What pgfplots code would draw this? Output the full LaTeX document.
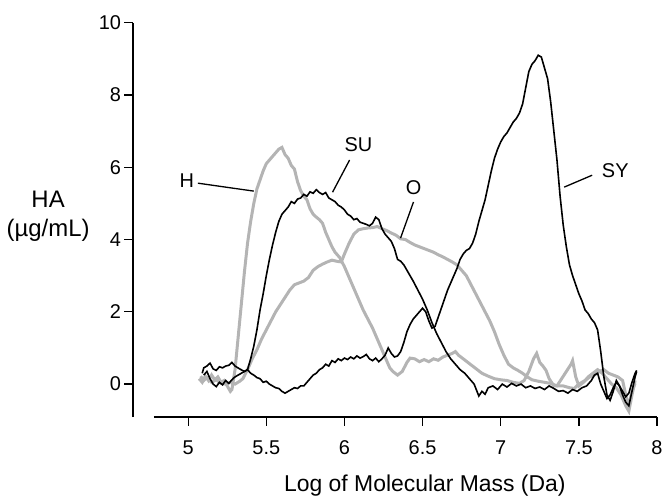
\documentclass[border=0pt]{standalone}
\usepackage{fontspec}
\setmainfont{Liberation Sans}
\usepackage{pgfplots}
\pgfplotsset{compat=1.18}
\definecolor{curvegray}{RGB}{180,180,180}

\begin{document}
\begin{tikzpicture}
\begin{axis}[
    scale only axis,
    width=524bp, height=394.3bp,
    xmin=4.647, xmax=8,
    ymin=-0.91, ymax=10,
    axis x line=bottom, axis y line=left,
    axis line style={-, line width=1.3bp},
    x axis line style={shorten <=21bp},
    tick align=outside,
    major tick length=8.5bp,
    tick style={black, line width=1.3bp},
    xtick={5,5.5,6,6.5,7,7.5,8},
    ytick={0,2,4,6,8,10},
    /pgf/number format/assume math mode=true,
    tick label style={font=\fontsize{20}{22}\selectfont},
    xticklabel style={yshift=-12bp},
    xlabel={Log of Molecular Mass (Da)},
    xlabel style={font=\fontsize{23}{26}\selectfont, at={(axis description cs:0.557,-0.190)}, anchor=base},
    clip=false,
]

% H
\addplot[curvegray, line width=3bp] coordinates {
(5.07,0.15)(5.09,0.05)(5.11,0.22)(5.13,0.1)(5.15,0.25)(5.17,0.12)(5.19,0.2)(5.21,0.05)(5.23,0.1)(5.25,-0.05)(5.27,-0.2)(5.28,-0.15)
(5.30,0.4)(5.32,1.3)(5.34,2.2)(5.36,3.1)(5.38,3.9)(5.40,4.5)(5.42,5.0)(5.44,5.4)(5.46,5.65)(5.48,5.9)(5.50,6.1)(5.52,6.2)(5.54,6.3)
(5.56,6.4)(5.58,6.5)(5.60,6.55)(5.62,6.35)(5.64,6.25)(5.66,6.05)(5.68,5.95)(5.70,5.6)(5.72,5.35)(5.74,5.2)(5.76,5.1)(5.78,4.85)
(5.80,4.7)(5.82,4.62)(5.84,4.55)(5.86,4.45)(5.88,4.2)(5.90,4.0)(5.92,3.8)(5.94,3.65)(5.97,3.5)(6.00,3.25)(6.03,2.95)(6.06,2.65)
(6.09,2.35)(6.12,2.05)(6.15,1.8)(6.18,1.55)(6.21,1.25)(6.24,0.95)(6.27,0.65)(6.29,0.45)(6.31,0.35)(6.34,0.25)(6.37,0.35)(6.40,0.6)
(6.42,0.72)(6.45,0.7)(6.48,0.62)(6.51,0.68)(6.54,0.62)(6.57,0.7)(6.60,0.66)(6.63,0.75)(6.66,0.8)(6.69,0.85)(6.71,0.9)(6.73,0.8)
(6.76,0.7)(6.79,0.6)(6.82,0.5)(6.85,0.4)(6.88,0.3)(6.92,0.22)(6.96,0.15)(7.00,0.12)(7.04,0.1)(7.08,0.05)(7.12,0.02)(7.15,0.1)
(7.18,0.35)(7.21,0.7)(7.23,0.85)(7.25,0.6)(7.27,0.5)(7.29,0.38)(7.31,0.15)(7.34,-0.05)(7.36,-0.05)(7.39,0.15)(7.42,0.35)(7.45,0.55)
(7.46,0.65)(7.48,0.2)(7.50,-0.05)(7.53,0.05)(7.56,0.2)(7.59,0.3)(7.62,0.4)(7.65,0.3)(7.68,0.15)(7.71,0.0)(7.74,-0.1)(7.77,-0.3)
(7.80,-0.6)(7.82,-0.75)(7.84,-0.3)(7.86,0.1)
};

% O
\addplot[curvegray, line width=3bp] coordinates {
(5.08,0.22)(5.10,0.1)(5.12,0.18)(5.15,0.05)(5.18,0.12)(5.21,0.02)(5.24,0.0)(5.27,0.05)(5.30,0.0)(5.33,0.08)(5.35,0.15)(5.38,0.4)
(5.41,0.7)(5.44,0.95)(5.47,1.25)(5.50,1.5)(5.53,1.75)(5.56,2.0)(5.59,2.2)(5.62,2.4)(5.65,2.6)(5.68,2.75)(5.71,2.8)(5.74,2.85)
(5.77,2.95)(5.80,3.15)(5.83,3.25)(5.86,3.32)(5.89,3.38)(5.92,3.43)(5.95,3.4)(5.98,3.38)(6.00,3.6)(6.03,3.9)(6.06,4.15)(6.09,4.27)
(6.12,4.3)(6.15,4.32)(6.18,4.33)(6.21,4.36)(6.24,4.3)(6.27,4.25)(6.30,4.18)(6.33,4.12)(6.36,4.02)(6.39,4.0)(6.42,3.92)(6.45,3.85)
(6.48,3.8)(6.51,3.75)(6.54,3.7)(6.57,3.65)(6.60,3.58)(6.63,3.52)(6.66,3.45)(6.69,3.38)(6.72,3.3)(6.75,3.15)(6.78,3.0)(6.81,2.75)
(6.84,2.5)(6.87,2.25)(6.90,2.0)(6.93,1.75)(6.96,1.45)(6.99,1.1)(7.02,0.8)(7.05,0.55)(7.08,0.45)(7.11,0.38)(7.14,0.3)(7.17,0.2)
(7.20,0.12)(7.24,0.08)(7.28,0.05)(7.32,0.02)(7.36,-0.05)(7.40,-0.05)(7.44,-0.1)(7.47,-0.12)(7.50,0.0)(7.54,0.1)(7.57,0.2)(7.60,0.25)
(7.63,0.35)(7.66,0.4)(7.69,0.3)(7.72,0.25)(7.75,0.2)(7.78,0.1)(7.80,-0.3)(7.82,-0.6)(7.84,-0.2)(7.86,0.02)
};

% SU
\addplot[black, line width=1.6bp] coordinates {
(5.09,0.3)(5.10,0.45)(5.12,0.5)(5.14,0.58)(5.16,0.42)(5.18,0.38)(5.20,0.48)(5.22,0.45)(5.24,0.5)(5.26,0.52)(5.28,0.6)(5.30,0.5)
(5.33,0.42)(5.36,0.35)(5.38,0.4)(5.40,0.7)(5.42,1.05)(5.44,1.5)(5.46,2.05)(5.48,2.5)(5.50,3.0)(5.52,3.45)(5.54,3.85)(5.56,4.2)
(5.58,4.5)(5.60,4.7)(5.62,4.8)(5.64,4.9)(5.66,5.05)(5.68,5.0)(5.70,5.12)(5.72,5.15)(5.74,5.25)(5.76,5.2)(5.78,5.32)(5.80,5.28)
(5.82,5.38)(5.84,5.3)(5.86,5.25)(5.88,5.3)(5.90,5.15)(5.92,5.1)(5.94,5.05)(5.96,4.95)(5.98,4.9)(6.00,4.82)(6.02,4.7)(6.04,4.65)
(6.06,4.55)(6.08,4.58)(6.10,4.48)(6.12,4.45)(6.14,4.42)(6.16,4.38)(6.18,4.45)(6.20,4.62)(6.22,4.55)(6.24,4.3)(6.26,4.15)(6.28,4.05)
(6.30,3.95)(6.32,3.75)(6.34,3.45)(6.36,3.4)(6.38,3.3)(6.40,3.15)(6.42,3.0)(6.44,2.85)(6.47,2.6)(6.50,2.35)(6.53,2.05)(6.56,1.7)
(6.59,1.4)(6.62,1.15)(6.65,0.9)(6.68,0.7)(6.71,0.55)(6.74,0.4)(6.77,0.3)(6.80,0.15)(6.83,0.0)(6.86,-0.33)(6.88,-0.2)(6.90,-0.28)
(6.92,-0.1)(6.95,-0.05)(6.98,-0.15)(7.01,0.0)(7.04,-0.08)(7.07,0.02)(7.10,-0.05)(7.13,0.0)(7.16,-0.1)(7.19,-0.05)(7.22,-0.12)
(7.25,-0.08)(7.28,-0.15)(7.31,-0.05)(7.34,-0.12)(7.37,-0.2)(7.40,-0.18)(7.43,-0.25)(7.46,-0.15)(7.49,-0.2)(7.52,-0.1)(7.55,-0.05)
(7.58,0.1)(7.60,0.25)(7.62,0.3)(7.64,0.0)(7.66,-0.2)(7.68,-0.4)(7.70,-0.3)(7.72,-0.1)(7.74,0.05)(7.76,-0.05)(7.78,-0.2)(7.80,-0.35)
(7.82,-0.25)(7.84,0.05)(7.86,0.3)(7.87,0.38)
};

% SY
\addplot[black, line width=1.6bp] coordinates {
(5.10,0.25)(5.12,0.35)(5.14,0.15)(5.16,0.0)(5.18,-0.07)(5.20,0.05)(5.22,-0.02)(5.24,0.1)(5.26,0.02)(5.28,0.12)(5.30,0.2)(5.32,0.25)
(5.34,0.3)(5.36,0.35)(5.38,0.4)(5.40,0.3)(5.42,0.25)(5.44,0.18)(5.46,0.15)(5.48,0.05)(5.50,0.08)(5.52,0.0)(5.54,-0.05)(5.56,-0.1)
(5.58,-0.12)(5.60,-0.2)(5.62,-0.25)(5.64,-0.2)(5.66,-0.15)(5.68,-0.1)(5.70,-0.12)(5.72,-0.05)(5.74,-0.05)(5.76,0.05)(5.78,0.15)
(5.80,0.25)(5.82,0.3)(5.84,0.4)(5.86,0.45)(5.88,0.55)(5.90,0.5)(5.92,0.65)(5.94,0.6)(5.96,0.7)(5.98,0.65)(6.00,0.72)(6.02,0.68)
(6.04,0.75)(6.06,0.7)(6.08,0.78)(6.10,0.72)(6.12,0.76)(6.14,0.82)(6.16,0.7)(6.18,0.65)(6.20,0.72)(6.22,0.62)(6.24,0.7)(6.26,0.8)
(6.28,1.0)(6.30,0.85)(6.32,0.75)(6.34,0.78)(6.36,0.9)(6.38,1.15)(6.40,1.45)(6.42,1.65)(6.44,1.8)(6.46,1.9)(6.48,2.0)(6.50,2.1)
(6.52,2.0)(6.54,1.75)(6.56,1.55)(6.58,1.6)(6.60,1.85)(6.62,2.1)(6.64,2.35)(6.66,2.6)(6.68,2.8)(6.70,3.0)(6.72,3.2)(6.74,3.45)
(6.76,3.6)(6.78,3.7)(6.80,3.75)(6.82,3.9)(6.84,4.15)(6.86,4.5)(6.88,4.8)(6.90,5.1)(6.92,5.5)(6.94,5.9)(6.96,6.25)(6.98,6.5)
(7.00,6.7)(7.02,6.85)(7.04,6.95)(7.06,7.1)(7.08,7.25)(7.10,7.35)(7.12,7.5)(7.14,7.75)(7.16,8.2)(7.18,8.65)(7.20,8.85)(7.22,8.95)
(7.24,9.1)(7.26,9.05)(7.28,8.75)(7.30,8.45)(7.32,7.8)(7.34,7.0)(7.36,6.2)(7.38,5.2)(7.40,4.4)(7.42,3.8)(7.44,3.3)(7.46,3.0)
(7.48,2.75)(7.50,2.5)(7.52,2.3)(7.54,2.05)(7.56,1.95)(7.58,1.8)(7.60,1.7)(7.62,1.5)(7.64,0.9)(7.66,0.2)(7.68,-0.3)(7.70,-0.45)
(7.72,-0.2)(7.74,0.1)(7.76,-0.05)(7.78,-0.3)(7.80,-0.5)(7.82,-0.6)(7.84,-0.2)(7.86,0.2)(7.87,0.35)
};

% labels and leader lines
\node[font=\fontsize{20}{22}\selectfont] at (axis cs:4.992,5.62) {H};
\draw[line width=1.3bp] (axis cs:5.062,5.56) -- (axis cs:5.42,5.34);
\node[font=\fontsize{20}{22}\selectfont] at (axis cs:6.09,6.63) {SU};
\draw[line width=1.3bp] (axis cs:6.033,6.2) -- (axis cs:5.924,5.31);
\node[font=\fontsize{20}{22}\selectfont] at (axis cs:6.443,5.45) {O};
\draw[line width=1.3bp] (axis cs:6.442,5.04) -- (axis cs:6.359,4.04);
\node[font=\fontsize{20}{22}\selectfont] at (axis cs:7.733,5.90) {SY};
\draw[line width=1.3bp] (axis cs:7.585,5.78) -- (axis cs:7.406,5.45);

% y label
\node[font=\fontsize{24}{26}\selectfont, anchor=base] at (axis description cs:-0.162,0.532) {HA};
\node[font=\fontsize{24}{26}\selectfont, anchor=base] at (axis description cs:-0.162,0.459) {(µg/mL)};

\coordinate (bl) at (axis description cs:-0.2538,-0.2029);
\coordinate (tr) at (axis description cs:1.0153,1.0576);
\end{axis}
\pgfresetboundingbox
\path[use as bounding box] (bl) rectangle (tr);
\end{tikzpicture}
\end{document}
